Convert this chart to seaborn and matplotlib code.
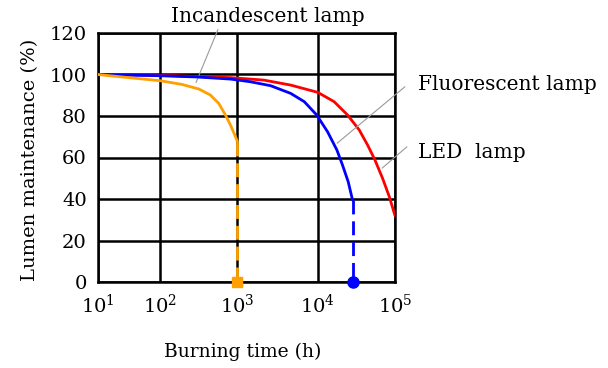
import numpy as np
import pandas as pd
import matplotlib
matplotlib.use("Agg")
import matplotlib.pyplot as plt
import seaborn as sns

# ---- data ----
inc_x = [10, 31, 100, 192, 317, 446, 572, 698, 811, 943, 1000]
inc_y = [100, 98.5, 97.0, 95.2, 93.0, 90.1, 86.1, 80.5, 75.7, 70.0, 67.6]
flu_x = [10, 100, 300, 813, 1450, 2590, 4600, 6800, 9700, 13400, 17700, 20900, 24800, 28200]
flu_y = [100, 99.4, 98.8, 97.8, 96.5, 94.6, 90.9, 86.9, 80.5, 72.4, 63.6, 56.4, 48.3, 39.5]
led_x = [10, 100, 813, 2130, 4600, 10000, 16300, 24300, 34400, 44200, 55000, 69000, 84400, 100000]
led_y = [100, 99.6, 98.5, 97.3, 94.9, 91.4, 86.9, 80.5, 73.3, 66.0, 58.8, 50.0, 41.1, 32.0]
inc_end = 1000
flu_end = 28200
y_ticks = [0, 20, 40, 60, 80, 100, 120]
x_ticks = [10, 100, 1000, 10000, 100000]
x_tick_labels = [r"$10^{1}$", r"$10^{2}$", r"$10^{3}$", r"$10^{4}$", r"$10^{5}$"]

sns.set_style("white")
plt.rcParams["font.family"] = ["DejaVu Serif"]
plt.rcParams["mathtext.fontset"] = "dejavuserif"
plt.rcParams["text.color"] = "black"
plt.rcParams["xtick.color"] = "black"
plt.rcParams["ytick.color"] = "black"

fig = plt.figure(figsize=(6.08, 3.68), dpi=100)
ax = fig.add_axes([98/608, 86/368, 297/608, 249/368])

# non-uniform decade spacing as in the reference
dec = np.array([1, 2, 3, 4, 5], dtype=float)
pos = np.array([0, 62, 139, 219, 296], dtype=float)
def fwd(x):
    x = np.asarray(x, dtype=float)
    with np.errstate(divide="ignore", invalid="ignore"):
        lx = np.log10(np.where(x > 0, x, 1e-10))
    return np.interp(lx, dec, pos, left=-1e3, right=1e3)
def inv(p):
    p = np.asarray(p, dtype=float)
    return 10 ** np.interp(p, pos, dec)
ax.set_xscale("function", functions=(fwd, inv))
ax.set_xlim(10, 100000)
ax.set_ylim(0, 120)

for x in x_ticks:
    ax.axvline(x, color="black", lw=1.8, zorder=1)
for y in y_ticks:
    ax.axhline(y, color="black", lw=1.8, zorder=1)

df_inc = pd.DataFrame({"x": inc_x, "y": inc_y})
df_flu = pd.DataFrame({"x": flu_x, "y": flu_y})
df_led = pd.DataFrame({"x": led_x, "y": led_y})
sns.lineplot(data=df_led, x="x", y="y", color="#ff0000", lw=2, ax=ax, zorder=3, sort=False)
sns.lineplot(data=df_flu, x="x", y="y", color="#0000ff", lw=2, ax=ax, zorder=4, sort=False)
sns.lineplot(data=df_inc, x="x", y="y", color="#ffa000", lw=2, ax=ax, zorder=5, sort=False)

ax.plot([inc_end, inc_end], [inc_y[-1], 0], color="#ffa000", lw=2, ls=(0, (5, 2.5)), zorder=5)
ax.plot([flu_end, flu_end], [flu_y[-1], 0], color="#0000ff", lw=2, ls=(0, (5, 2.5)), zorder=4)
ax.plot([inc_end], [0], marker="s", ms=7, color="#ffa000", clip_on=False, zorder=6)
ax.plot([flu_end], [0], marker="o", ms=8, color="#0000ff", clip_on=False, zorder=6)

for s in ax.spines.values():
    s.set_visible(True)
    s.set_color("black")
    s.set_linewidth(1.8)

ax.set_xticks(x_ticks)
ax.set_xticklabels(x_tick_labels, fontsize=14)
ax.xaxis.set_minor_locator(matplotlib.ticker.NullLocator())
ax.set_yticks(y_ticks)
ax.set_yticklabels([str(v) for v in y_ticks], fontsize=14)
ax.tick_params(axis="y", length=0, pad=8)
ax.tick_params(axis="x", length=0, pad=8)
ax.set_xlabel("")
ax.set_ylabel("")

fig.text(243/608, 1 - 352/368, "Burning time (h)", ha="center", va="center", fontsize=13.5)
fig.text(30/608, 1 - 160/368, "Lumen maintenance (%)", ha="center", va="center",
         rotation=90, fontsize=14)

gray = "#999999"
def leader(p0, p1):
    ax.annotate("", xy=(p1[0], 368 - p1[1]), xycoords="figure pixels",
                xytext=(p0[0], 368 - p0[1]), textcoords="figure pixels",
                arrowprops=dict(arrowstyle="-", color=gray, lw=0.8), annotation_clip=False)
leader((219, 27), (195, 85))
leader((407, 85), (335, 145))
leader((409, 145), (380, 170))

fig.text(268/608, 1 - 17/368, "Incandescent lamp", ha="center", va="center", fontsize=14.5)
fig.text(418/608, 1 - 84/368, "Fluorescent lamp", ha="left", va="center", fontsize=14.5)
fig.text(418/608, 1 - 152/368, "LED  lamp", ha="left", va="center", fontsize=14.5)

fig.savefig("out.png", dpi=100)
